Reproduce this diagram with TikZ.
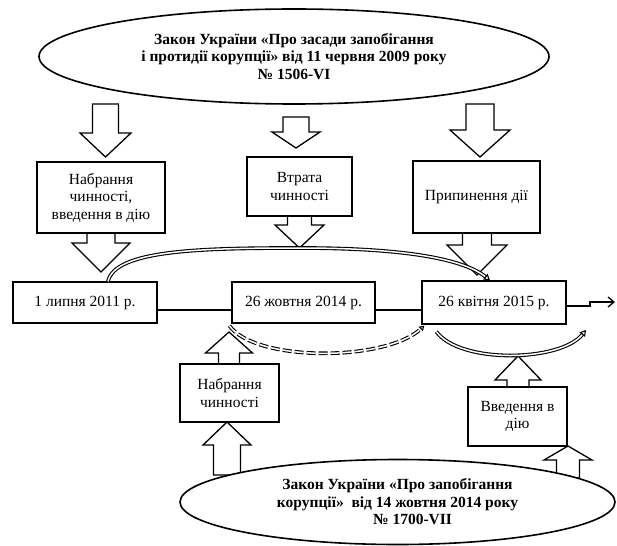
\documentclass[tikz,border=0pt]{standalone}
\usepackage{fontspec}
\setmainfont{Liberation Serif}
\usetikzlibrary{shapes.geometric,arrows.meta}
\newcommand{\blkarr}[7]{%
  \begin{scope}[shift={(#1,#2)}, yscale=#3]
    \draw[blk] (0,0) -- (-#5,-#6) -- (-#4,-#6) -- (-#4,-#7) -- (#4,-#7) -- (#4,-#6) -- (#5,-#6) -- cycle;
  \end{scope}}
\begin{document}
\begin{tikzpicture}[x=1pt,y=-1pt,
  box/.style={draw, line width=1.3pt, rectangle, align=center, inner sep=0pt, font=\fontsize{15.5}{17.5}\selectfont},
  law/.style={draw, line width=1.6pt, ellipse, fill=white, align=center, inner sep=0pt, font=\bfseries\fontsize{15.5}{17.5}\selectfont},
  blk/.style={draw, line width=1.3pt, fill=white, line join=miter},
  dbl/.style={double, double distance=1.5pt, line width=1.1pt},
  link/.style={line width=1.3pt}]
\useasboundingbox (0,0) rectangle (617,545);

% block arrows
\blkarr{105.5}{157}{1}{13}{25.5}{24}{53}
\blkarr{296}{148}{1}{13}{24}{16}{31}
\blkarr{480}{157}{1}{14}{30}{27}{53}
\blkarr{101}{272}{1}{14}{29}{29}{39}
\blkarr{299.5}{248}{1}{12}{24.5}{23}{32}
\blkarr{477}{275}{1}{14.5}{30}{30}{42}
\blkarr{227}{422}{-1}{13.5}{24}{23}{53}
\blkarr{229}{332}{-1}{10.5}{23.5}{21}{32}
\blkarr{568}{446}{-1}{11.5}{24}{14}{32}
\blkarr{518}{356}{-1}{11}{23}{24}{32}

% ellipses
\node[law, minimum width=510pt, minimum height=95pt] (law1) at (294,56.5)
  {Закон України «Про засади запобігання\\і протидії корупції» від 11 червня 2009 року\\№ 1506-VI};
\node[law, minimum width=435pt, minimum height=85pt] (law2) at (397.5,502)
  {Закон України «Про запобігання\\корупції»\ \ від 14 жовтня 2014 року\\\hspace*{30pt}№ 1700-VII};

% boxes
\node[box, fill=white, minimum width=128pt, minimum height=71pt] (b1) at (101,197.5) {Набрання\\чинності,\\введення в дію};
\node[box, fill=white, minimum width=105pt, minimum height=59pt] (b2) at (299.5,186.5) {Втрата\\чинності};
\node[box, fill=white, minimum width=127pt, minimum height=72pt] (b3) at (476.5,197) {Припинення дії};

\node[box, minimum width=144pt, minimum height=41pt] (A) at (85,302.5) {1 липня 2011 р.};
\node[box, minimum width=143pt, minimum height=41pt] (B) at (303.5,302.5) {26 жовтня 2014 р.};
\node[box, minimum width=144pt, minimum height=43pt] (C) at (494,302.5) {26 квітня 2015 р.};

\node[box, fill=white, minimum width=99pt, minimum height=58pt] (n1) at (229.5,393) {Набрання\\чинності};
\node[box, fill=white, minimum width=99pt, minimum height=59pt] (n2) at (517.5,416.5) {Введення в\\дію};

% timeline links
\draw[link] ([yshift=-7.5pt]A.east) -- ([yshift=-7.5pt]B.west);
\draw[link] ([yshift=-7.5pt]B.east) -- ([yshift=-7.5pt]C.west);
\coordinate (outend) at (615,302);
\draw[link, -{Straight Barb[length=6pt,width=10pt,line width=1.3pt]}]
  ([yshift=-3.5pt]C.east) -- (590,306) -- (590,302) -- (outend);

% arcs
\coordinate (a0) at ([xshift=23pt]A.north);
\coordinate (a1) at ([xshift=-4pt]C.north);
\draw[dbl, -{Triangle[open,length=6pt,width=7pt]}]
  (a0) .. controls (115,250) and (200,248) .. (300,248)
       .. controls (400,248) and (462,258) .. (a1);

\draw[dbl, dash pattern=on 9pt off 3pt, -{Triangle[open,length=5pt,width=6pt]}]
  ([xshift=-2pt,yshift=-2pt]B.south west) .. controls (255,362) and (385,362) .. ([xshift=3pt,yshift=-1pt]C.south west);

\draw[dbl, -{Triangle[open,length=6pt,width=7pt]}]
  ([xshift=15pt,yshift=-7pt]C.south west) .. controls (460,364) and (560,362) .. (586,330);
\end{tikzpicture}
\end{document}
